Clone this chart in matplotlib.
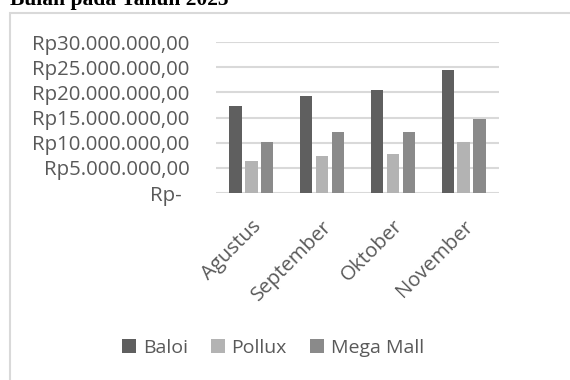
import matplotlib.pyplot as plt
import matplotlib.transforms as mtransforms
from matplotlib.patches import Rectangle
import numpy as np

# Penjualan per bulan (Rp)
months = ["Agustus", "September", "Oktober", "November"]
baloi = [17300000, 19300000, 20400000, 24400000]
pollux = [6300000, 7400000, 7700000, 10100000]
mega_mall = [10100000, 12200000, 12200000, 14800000]

series = [("Baloi", baloi, "#5f5f5f"),
          ("Pollux", pollux, "#b3b3b3"),
          ("Mega Mall", mega_mall, "#8a8a8a")]

y_ticks = [0, 5000000, 10000000, 15000000, 20000000, 25000000, 30000000]


def rupiah(v):
    if v == 0:
        return "Rp-"
    return "Rp" + f"{v:,.2f}".replace(",", "X").replace(".", ",").replace("X", ".")


plt.rcParams["font.family"] = ["Open Sans", "DejaVu Sans"]
text_color = "#595959"
fs = 14.7

fig = plt.figure(figsize=(5.7, 3.8), dpi=100)
ax = fig.add_axes([216 / 570, 1 - 192.7 / 380, 283 / 570, 150.4 / 380])

x = np.arange(len(months))
offsets = [-0.225, 0, 0.225]
for (name, vals, color), off in zip(series, offsets):
    ax.bar(x + off, vals, width=0.175, color=color, label=name, zorder=3)

ax.set_xlim(-0.5, len(months) - 0.5)
ax.set_ylim(0, 30000000)
ax.set_yticks(y_ticks)
ax.set_yticklabels([rupiah(v) for v in y_ticks])
ax.set_xticks(x)
ax.set_xticklabels(months, rotation=45, ha="right", va="top", rotation_mode="anchor")

ax.grid(axis="y", color="#d9d9d9", linewidth=1.5, zorder=0)
for s in ax.spines.values():
    s.set_visible(False)
ax.tick_params(axis="both", length=0, labelsize=fs, labelcolor=text_color)
ax.tick_params(axis="y", pad=19)
ax.tick_params(axis="x", pad=17)

# the "Rp-" label sits a bit further left
lbl0 = ax.get_yticklabels()[0]
lbl0.set_transform(lbl0.get_transform() + mtransforms.ScaledTranslation(-8 / 100, -1 / 100, fig.dpi_scale_trans))

# legend
leg = fig.legend(loc="center", bbox_to_anchor=(273 / 570, 1 - 348 / 380), ncol=3, frameon=False,
                 fontsize=14, handlelength=0.7, handleheight=0.7, handletextpad=0.35,
                 columnspacing=1.2, labelcolor=text_color)

# chart frame
fig.add_artist(Rectangle((10 / 570, -0.1), 1.2, 1.1 - 13 / 380, transform=fig.transFigure,
                         fill=False, edgecolor="#d9d9d9", linewidth=1.5))

# title (cut at the top in the source)
fig.text(10 / 570, 1 - 5 / 380, "Bulan pada Tahun 2025", family="Liberation Serif",
         fontweight="bold", fontsize=15.5, ha="left", va="baseline", color="black")

fig.savefig("out.png", dpi=100)
